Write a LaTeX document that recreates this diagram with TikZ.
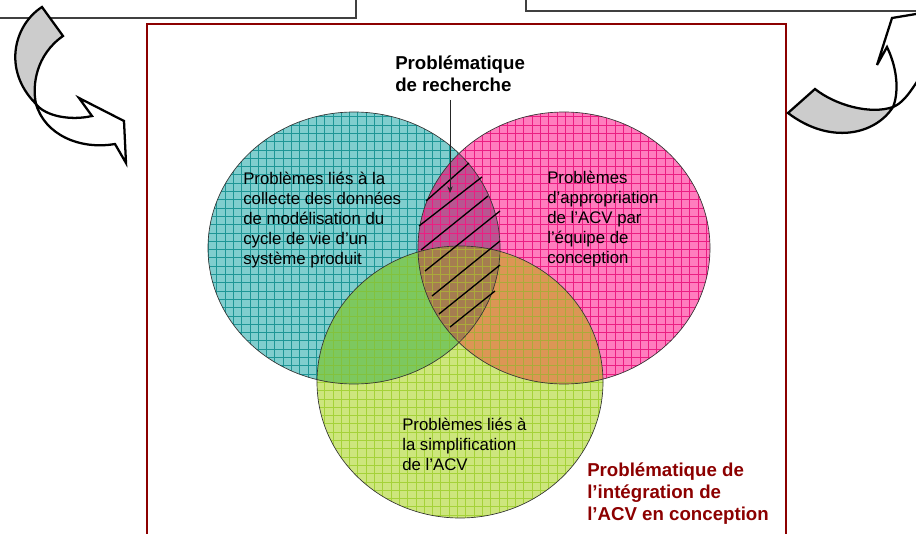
\documentclass[tikz,border=0pt]{standalone}
\usepackage{fontspec}
\setmainfont{Liberation Sans}
\usetikzlibrary{arrows.meta}
\definecolor{tealfill}{RGB}{128,206,206}
\definecolor{tealgrid}{RGB}{30,150,150}
\definecolor{pinkfill}{RGB}{255,125,190}
\definecolor{pinkgrid}{RGB}{235,30,130}
\definecolor{greenfill}{RGB}{205,230,125}
\definecolor{greengrid}{RGB}{155,205,40}
\definecolor{tpfill}{RGB}{185,85,145}
\definecolor{tgfill}{RGB}{125,200,95}
\definecolor{pgfill}{RGB}{220,150,85}
\definecolor{allfill}{RGB}{165,125,80}
\definecolor{frameclr}{RGB}{140,0,0}
\definecolor{arrgray}{RGB}{204,204,204}
\definecolor{boxclr}{RGB}{64,64,64}
\begin{document}
\begin{tikzpicture}[x=0.75pt,y=-0.75pt,
ovl/.style={x radius=146,y radius=136},
ovlg/.style={x radius=143,y radius=136},
txt/.style={anchor=north west,inner sep=0,align=left,font=\fontsize{12.6}{15}\selectfont},
hd/.style={anchor=north west,inner sep=0,align=left,font=\bfseries\fontsize{14}{16.5}\selectfont},
bent/.style={line width=1.7pt,line join=miter},
gridln/.style={line width=0.4pt}]
\useasboundingbox (0,0) rectangle (916,534);
\clip (0,0) rectangle (916,534);
\draw[boxclr, line width=0.8pt] (-5,-5) rectangle (356,18);
\draw[boxclr, line width=0.8pt] (526,-5) rectangle (925,11);
\draw[frameclr, line width=1.5pt] (147,24) rectangle (786,560);
\coordinate (cteal) at (354,248);
\coordinate (cpink) at (564,248);
\coordinate (cgreen) at (460,382);
\fill[tealfill] (cteal) ellipse [ovl];
\fill[pinkfill] (cpink) ellipse [ovl];
\fill[greenfill] (cgreen) ellipse [ovlg];
\begin{scope}
\clip (cteal) ellipse [ovl];
\fill[tpfill] (cpink) ellipse [ovl];
\fill[tgfill] (cgreen) ellipse [ovlg];
\clip (cpink) ellipse [ovl];
\fill[allfill] (cgreen) ellipse [ovlg];
\end{scope}
\begin{scope}
\clip (cpink) ellipse [ovl];
\clip (cgreen) ellipse [ovlg];
\fill[pgfill] (cpink) ellipse [ovl];
\clip (cteal) ellipse [ovl];
\fill[allfill] (cteal) ellipse [ovl];
\end{scope}
\begin{scope}
\clip (cteal) ellipse [ovl];
\draw[gridln, tealgrid] \foreach \i in {0,...,64} {(200+\i*8.3,100) -- ++(0,440)} \foreach \j in {0,...,52} {(190,100+\j*8.3) -- ++(540,0)};
\end{scope}
\begin{scope}
\clip (cpink) ellipse [ovl];
\draw[gridln, pinkgrid] \foreach \i in {0,...,64} {(200+\i*8.3,100) -- ++(0,440)} \foreach \j in {0,...,52} {(190,100+\j*8.3) -- ++(540,0)};
\end{scope}
\begin{scope}
\clip (cgreen) ellipse [ovlg];
\draw[gridln, greengrid, opacity=0.8] \foreach \i in {0,...,64} {(200+\i*8.3,100) -- ++(0,440)} \foreach \j in {0,...,52} {(190,100+\j*8.3) -- ++(540,0)};
\end{scope}
\draw[black!80, line width=0.5pt] (cteal) ellipse [ovl];
\draw[black!80, line width=0.5pt] (cpink) ellipse [ovl];
\draw[black!80, line width=0.5pt] (cgreen) ellipse [ovlg];
\foreach \a/\b/\c/\d in {426/201/469/163, 419/226/482/177, 421/250/488/196, 425/271/500/211, 432/296/500/241, 439/314/500/265, 450/327/495/291}
  \draw[line width=1pt] (\a,\b) -- (\c,\d);
\node[txt] (tealtxt) at (243,172) {Problèmes liés à la\\collecte des données\\de modélisation du\\cycle de vie d’un\\système produit};
\node[txt] (pinktxt) at (547,171) {Problèmes\\d’appropriation\\de l’ACV par\\l’équipe de\\conception};
\node[txt] (greentxt) at (402,418) {Problèmes liés à\\la simplification\\de l’ACV};
\node[hd] (title) at (395,56) {Problématique\\de recherche};
\node[hd, text=frameclr] (integ) at (587,463) {Problématique de\\l’intégration de\\l’ACV en conception};
\coordinate (hatchtip) at (450,193);
\draw[black!85, line width=0.5pt, -{Stealth[length=5pt,width=4pt]}, shorten <=5.6pt] (title.south -| hatchtip) -- (hatchtip);
\filldraw[bent, fill=arrgray] (42,7) .. controls (14,25) and (2,70) .. (36,104) .. controls (32,85) and (36,55) .. (63,36) -- cycle;
\filldraw[bent, fill=white] (36,104) .. controls (45,116) and (70,121) .. (92,116) -- (79,98) -- (124,121) -- (126,163) -- (115,144) .. controls (80,150) and (45,135) .. (36,104) -- cycle;
\filldraw[bent, fill=arrgray] (788,113) -- (815,89) .. controls (835,105) and (870,115) .. (893,107) .. controls (875,135) and (830,145) .. (788,113) -- cycle;
\filldraw[bent, fill=white] (893,107) .. controls (898,95) and (899,72) .. (887,47) -- (877,65) -- (892,18) -- (940,10) -- (940,50) .. controls (918,75) and (910,100) .. (893,107) -- cycle;
\end{tikzpicture}
\end{document}
